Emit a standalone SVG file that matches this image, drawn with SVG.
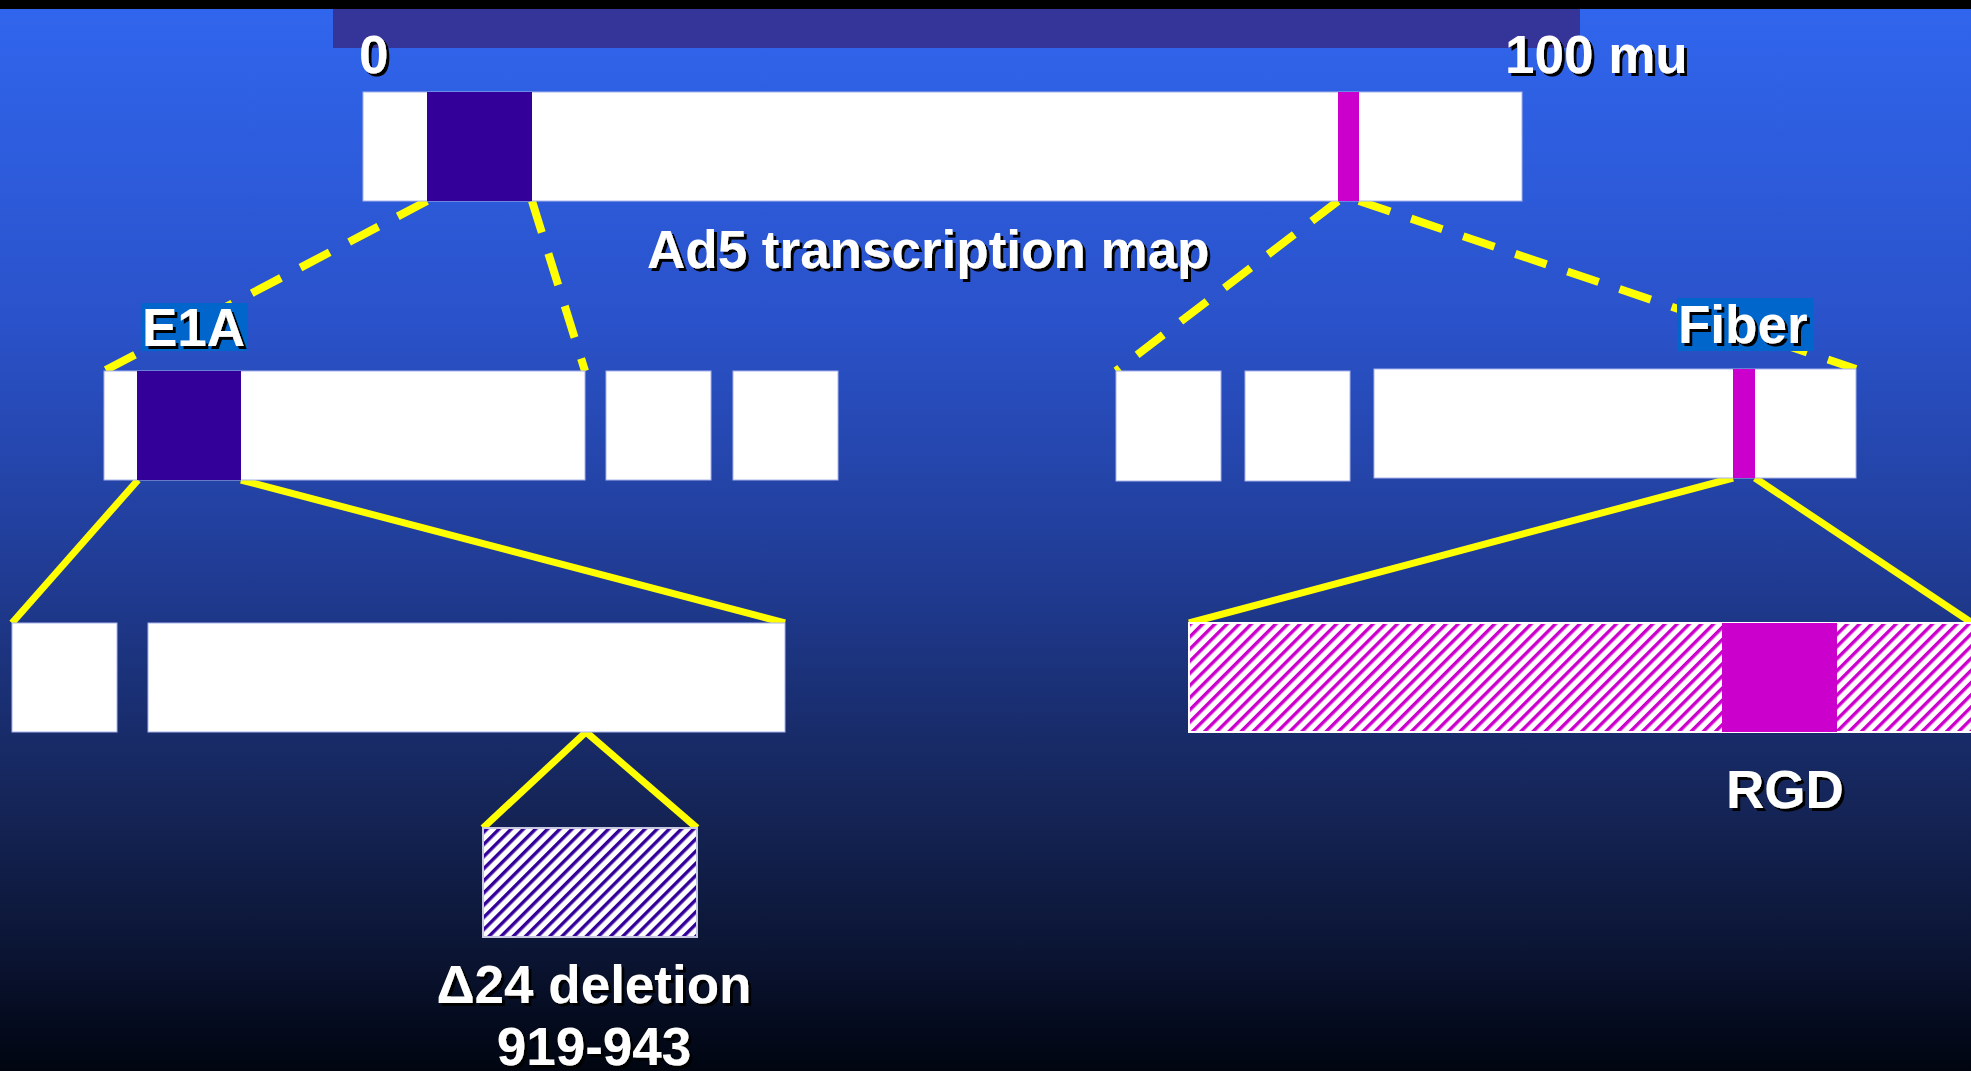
<svg xmlns="http://www.w3.org/2000/svg" width="1971" height="1071" viewBox="0 0 1971 1071">
<defs>
<linearGradient id="bg" x1="0" y1="0" x2="0" y2="1">
<stop offset="0" stop-color="#3066EE"/>
<stop offset="0.3" stop-color="#2A52CA"/>
<stop offset="0.55" stop-color="#1F3A90"/>
<stop offset="0.75" stop-color="#152558"/>
<stop offset="0.9" stop-color="#0A1330"/>
<stop offset="1" stop-color="#000510"/>
</linearGradient>
<pattern id="hatchPurple" patternUnits="userSpaceOnUse" width="8.6" height="8.6" patternTransform="rotate(45)">
<rect width="8.6" height="8.6" fill="#ffffff"/>
<rect width="3.4" height="8.6" fill="#330099"/>
</pattern>
<pattern id="hatchMagenta" patternUnits="userSpaceOnUse" width="8.6" height="8.6" patternTransform="rotate(45)">
<rect width="8.6" height="8.6" fill="#ffffff"/>
<rect width="3.4" height="8.6" fill="#CC00CC"/>
</pattern>
<filter id="shadow" x="-10%" y="-10%" width="130%" height="130%">
<feOffset in="SourceAlpha" dx="3" dy="3" result="o"/>
<feFlood flood-color="#000000"/>
<feComposite in2="o" operator="in" result="s"/>
<feMerge><feMergeNode in="s"/><feMergeNode in="SourceGraphic"/></feMerge>
</filter>
</defs>
<style>
.box{fill:#ffffff;stroke:#A8B4EC;stroke-width:1}
.e1a{fill:#330099}
.fib{fill:#CC00CC}
.lbl{font-family:"Liberation Sans",Arial,sans-serif;font-weight:bold;font-size:53px;fill:#ffffff;filter:url(#shadow)}
.tag{fill:#0066CC}
.dash{stroke:#FFFF00;stroke-width:8;stroke-dasharray:33 22;fill:none}
.solid{stroke:#FFFF00;stroke-width:7;fill:none}
</style>
<rect x="0" y="0" width="1971" height="1071" fill="url(#bg)"/>
<rect x="0" y="0" width="1971" height="9" fill="#000000"/>
<rect x="333" y="9" width="1247" height="39" fill="#353599"/>

<g id="connectors">
<line class="dash" x1="427" y1="201" x2="104" y2="371"/>
<line class="dash" x1="532" y1="201" x2="585" y2="371"/>
<line class="dash" x1="1338" y1="201" x2="1116" y2="371"/>
<line class="dash" x1="1359" y1="201" x2="1856" y2="369"/>
<line class="solid" x1="138" y1="480" x2="12" y2="623"/>
<line class="solid" x1="241" y1="480" x2="785" y2="623"/>
<line class="solid" x1="586" y1="732" x2="483" y2="828"/>
<line class="solid" x1="586" y1="732" x2="697" y2="828"/>
<line class="solid" x1="1733" y1="478" x2="1189" y2="623"/>
<line class="solid" x1="1755" y1="478" x2="1975" y2="625"/>
</g>

<g id="scale">
<text class="lbl" x="359" y="73">0</text>
<text class="lbl" x="1505" y="73">100 mu</text>
</g>

<g id="ad5-map">
<rect class="box" x="363" y="92" width="1159" height="109"/>
<rect class="e1a" x="427" y="92" width="105" height="109"/>
<rect class="fib" x="1338" y="92" width="21" height="109"/>
<text class="lbl" x="647" y="268">Ad5 transcription map</text>
</g>

<g id="e1a-region">
<rect class="box" x="104" y="371" width="481" height="109"/>
<rect class="e1a" x="137" y="371" width="104" height="109"/>
<rect class="box" x="606" y="371" width="105" height="109"/>
<rect class="box" x="733" y="371" width="105" height="109"/>
<rect class="tag" x="141" y="303" width="107" height="48"/>
<text class="lbl" x="142" y="346">E1A</text>
</g>

<g id="fiber-region">
<rect class="box" x="1116" y="371" width="105" height="110"/>
<rect class="box" x="1245" y="371" width="105" height="110"/>
<rect class="box" x="1374" y="369" width="482" height="109"/>
<rect class="fib" x="1733" y="369" width="22" height="109"/>
<rect class="tag" x="1677" y="298" width="136" height="53"/>
<text class="lbl" x="1678" y="343">Fiber</text>
</g>

<g id="e1a-exons">
<rect class="box" x="12" y="623" width="105" height="109"/>
<rect class="box" x="148" y="623" width="637" height="109"/>
</g>

<g id="delta24">
<rect x="483" y="828" width="214" height="109" fill="url(#hatchPurple)" stroke="#C8C8E0" stroke-width="2"/>
<text class="lbl" x="594" y="1003" text-anchor="middle">Δ24 deletion</text>
<text class="lbl" x="594" y="1065" text-anchor="middle">919-943</text>
</g>

<g id="fiber-knob">
<rect x="1189" y="623" width="790" height="109" fill="url(#hatchMagenta)" stroke="#ffffff" stroke-width="2"/>
<rect class="fib" x="1722" y="623" width="115" height="109"/>
<text class="lbl" x="1726" y="808">RGD</text>
</g>
</svg>
